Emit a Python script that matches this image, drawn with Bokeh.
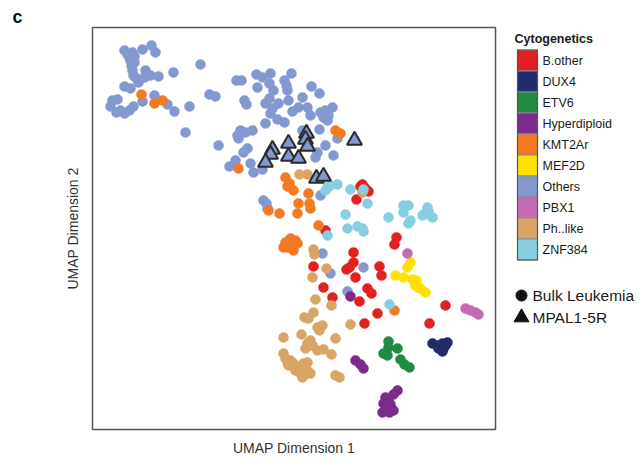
from bokeh.plotting import figure
from bokeh.layouts import row
from bokeh.models import Range1d, FixedTicker
from bokeh.embed import file_html
from bokeh.resources import INLINE
from bokeh.core.properties import value

FONT = "Liberation Sans"

categories = ["B.other", "DUX4", "ETV6", "Hyperdiploid", "KMT2Ar",
              "MEF2D", "Others", "PBX1", "Ph..like", "ZNF384"]
colors = ["#e1201f", "#222b6b", "#1f8b43", "#7d2a8e", "#f37a21",
          "#ffe000", "#8398d0", "#c46cb3", "#d9a567", "#87cfe0"]

others_x = [3.2,3.5,4.0,3.7,4.2,3.8,4.2,3.9,4.0,4.1,4.3,4.6,5.0,5.9,6.3,5.3,5.5,5.2,5.8,6.6,8.1,10.8,
            3.2,3.8,2.0,2.5,1.8,2.8,3.2,3.7,4.1,2.4,5.0,6.2,7.5,8.2,9.7,9.3,12.6,11.7,12.3,
            14.4,14.9,16.4,17.0,17.8,19.9,19.2,19.4,17.7,16.5,18.1,19.5,21.9,22.7,
            15.2,15.4,17.3,17.7,18.6,19.6,21.0,18.0,17.8,20.0,20.6,21.5,21.8,22.8,23.3,23.1,23.6,24.0,23.5,
            17.3,18.5,19.2,21.0,22.7,14.8,14.5,15.3,16.0,14.6,15.5,15.1,14.3,15.8,17.0,16.1,
            22.5,22.3,23.3,24.1,24.5,22.8,17.1,17.4,17.5,23.0,23.8,27.1,25.5,13.7]
others_y = [37.9,37.5,37.7,37.2,37.3,36.9,36.7,36.4,35.9,35.4,35.2,34.7,38.0,38.4,37.7,35.9,35.4,35.2,35.4,35.3,35.7,36.5,
            34.3,34.1,32.9,33.0,32.3,31.9,31.6,31.9,32.3,31.7,32.8,33.4,32.5,31.8,32.3,29.7,28.4,33.5,33.3,
            34.9,34.9,35.5,35.2,35.6,35.6,34.9,34.4,34.6,34.2,33.9,33.9,34.3,33.6,
            32.9,32.5,32.6,33.1,32.6,32.9,33.2,32.1,31.6,31.8,32.2,32.2,31.4,31.7,31.9,31.2,31.4,32.2,30.9,
            30.6,31.0,30.7,29.9,30.0,29.9,29.4,29.7,29.9,29.1,28.1,27.7,26.9,26.6,26.0,25.7,
            27.7,27.2,28.4,27.4,29.1,23.4,22.9,22.6,22.1,17.6,15.6,16.2,13.8,26.3]

bother_x = [26.8,27.3,27.6,27.0,26.4,23.3,26.1,26.1,25.4,25.7,26.3,22.1,28.7,28.9,30.4,30.2,
            23.1,24.0,26.7,27.5,27.9,28.5,27.2,35.3,33.7]
bother_y = [24.3,24.1,23.8,24.5,23.0,19.9,17.7,16.7,16.0,16.2,15.2,16.3,16.3,15.4,19.2,18.5,
            14.2,13.2,12.8,14.1,13.6,11.6,10.6,12.4,10.6]

dux4_x = [34.0,34.5,35.0,35.5,34.6,35.1,35.0,35.3]
dux4_y = [8.6,8.4,8.6,8.7,8.1,8.1,7.8,8.4]

etv6_x = [29.6,29.6,30.5,29.1,29.5,30.8,31.2,31.7]
etv6_y = [8.8,8.2,8.1,7.6,7.4,7.0,6.5,6.2]

hyper_x = [25.8,26.3,26.8,27.1,30.5,30.1,29.3,29.1,29.8,29.5,30.1,29.0,29.7,29.6]
hyper_y = [13.3,6.9,6.5,6.1,3.9,3.5,3.2,2.6,2.5,2.1,1.9,1.7,1.7,2.9]

kmt2ar_x = [4.9,6.2,7.0,24.3,24.8,14.6,19.3,19.7,19.5,20.1,21.6,20.6,21.7,21.8,20.5,18.7,17.6,
            22.6,19.3,19.8,20.3,19.5,20.0,20.5,19.1,20.1,30.2]
kmt2ar_y = [33.5,32.6,32.9,29.9,29.6,26.1,25.2,24.6,24.3,23.9,23.6,22.6,22.6,22.1,21.6,21.6,21.9,
            20.4,18.7,19.1,18.9,18.2,18.3,18.6,18.2,17.9,11.9]

mef2d_x = [31.8,31.5,30.3,31.1,32.0,32.4,32.3,32.8,33.3,32.6]
mef2d_y = [16.7,16.2,15.4,15.2,15.0,14.9,14.4,14.1,13.7,14.2]

pbx1_x = [31.5,37.3,37.8,38.3,38.6]
pbx1_y = [17.6,12.1,11.9,11.7,11.5]

phlike_x = [20.7,21.5,27.0,22.1,22.2,23.4,22.0,22.3,23.9,22.1,21.2,21.6,22.5,23.0,22.7,25.8,24.3,
            19.1,20.9,21.8,21.5,21.3,22.0,22.5,23.1,23.9,19.1,19.3,19.5,20.0,20.5,20.8,21.1,21.5,
            20.7,21.0,21.8,21.5,24.3,24.7,20.1,19.8,20.3,19.6,21.3]
phlike_y = [25.5,25.5,23.7,18.0,17.5,16.1,15.2,13.0,12.4,11.7,11.2,11.1,10.2,10.4,9.9,10.5,9.1,
            9.2,9.5,8.9,8.6,8.1,8.4,7.9,8.0,7.5,7.6,7.1,6.7,6.4,6.1,6.3,6.6,6.7,
            5.7,5.2,5.6,5.9,5.4,5.2,6.6,6.9,5.9,6.4,5.5]

znf384_x = [23.5,23.8,24.5,23.3,25.8,27.1,27.5,25.3,25.5,26.5,27.0,27.1,23.5,29.6,31.1,31.6,
            31.1,31.8,31.6,33.0,33.5,33.6,34.0,33.3,29.7]
znf384_y = [24.2,24.4,24.5,23.9,24.0,24.0,22.6,21.5,20.1,20.3,20.1,19.8,19.4,21.2,22.4,22.4,
            21.7,20.9,20.6,21.4,22.2,21.8,21.2,21.6,12.5]

# MPAL1-5R samples (triangles, all "Others")
mpal_x = [21.4,21.3,21.5,19.6,18.0,17.8,17.3,19.6,20.6,26.2,22.4,23.1]
mpal_y = [29.6,29.0,28.3,28.6,28.0,27.5,26.7,27.3,27.1,28.9,25.1,25.3]

shape_labels = ["Bulk Leukemia", "MPAL1-5R"]

series = {
    "B.other": (bother_x, bother_y), "DUX4": (dux4_x, dux4_y), "ETV6": (etv6_x, etv6_y),
    "Hyperdiploid": (hyper_x, hyper_y), "KMT2Ar": (kmt2ar_x, kmt2ar_y),
    "MEF2D": (mef2d_x, mef2d_y), "Others": (others_x, others_y), "PBX1": (pbx1_x, pbx1_y),
    "Ph..like": (phlike_x, phlike_y), "ZNF384": (znf384_x, znf384_y),
}
color_of = dict(zip(categories, colors))

p = figure(width=497, height=466, x_range=Range1d(0, 40.3), y_range=Range1d(0, 40.2),
           output_backend="svg", toolbar_location=None,
           min_border_left=92, min_border_right=2, min_border_top=27, min_border_bottom=37)
p.grid.visible = False
p.outline_line_color = "#555555"
p.outline_line_width = 1.5
p.background_fill_color = "white"
p.border_fill_color = "white"

p.title.text = "c"
p.title.align = "left"
p.title.offset = -80
p.title.standoff = 2
p.title.text_font = FONT
p.title.text_font_size = "18px"
p.title.text_font_style = "bold"
p.title.text_color = "#111111"

for ax in (p.xaxis[0], p.yaxis[0]):
    ax.ticker = FixedTicker(ticks=[])
    ax.axis_line_color = None
    ax.major_tick_line_color = None
    ax.minor_tick_line_color = None
    ax.major_tick_out = 0
    ax.major_tick_in = 0
    ax.minor_tick_out = 0
    ax.major_label_standoff = 0
    ax.axis_label_text_font = FONT
    ax.axis_label_text_font_size = "14px"
    ax.axis_label_text_font_style = "normal"
    ax.axis_label_text_color = "#333333"
p.xaxis[0].axis_label = "UMAP Dimension 1"
p.yaxis[0].axis_label = "UMAP Dimension 2"
p.xaxis[0].axis_label_standoff = 10
p.yaxis[0].axis_label_standoff = 12

draw_order = ["Others"] + [c for c in categories if c != "Others"]
for cat in draw_order:
    xs, ys = series[cat]
    p.scatter(xs, ys, marker="circle", size=10, fill_color=color_of[cat],
              line_color=color_of[cat], line_width=0.5)

p.scatter(mpal_x, mpal_y, marker="triangle", size=15, fill_color=color_of["Others"],
          line_color="#2a2a2a", line_width=2)

# legend panel (pixel-like coordinates matching the page rows 27..429)
q = figure(width=144, height=466, x_range=Range1d(0, 144), y_range=Range1d(429, 27),
           output_backend="svg", toolbar_location=None,
           min_border_left=0, min_border_right=0, min_border_top=27, min_border_bottom=37,
           x_axis_location=None, y_axis_location=None)
q.grid.visible = False
q.outline_line_color = None
q.background_fill_color = "white"
q.border_fill_color = "white"

sw_top, sw_h = 49.5, 21.0
sw_y = [sw_top + sw_h * (i + 0.5) for i in range(len(categories))]
q.rect(x=[30] * len(categories), y=sw_y, width=20, height=sw_h,
       fill_color=colors, line_color="#8c8c8c", line_width=1)
q.rect(x=[30], y=[sw_top + sw_h * len(categories) / 2], width=20, height=sw_h * len(categories),
       fill_color=None, line_color="#555555", line_width=1.2)
q.text(x=[45] * len(categories), y=sw_y, text=categories, text_baseline="middle",
       text_font=value(FONT), text_font_size="12.5px", text_color="#1a1a1a")
q.text(x=[17], y=[38], text=["Cytogenetics"], text_baseline="middle",
       text_font=value(FONT), text_font_size="12.5px", text_font_style="bold", text_color="#1a1a1a")

q.scatter(x=[24], y=[295], marker="circle", size=11, color="#111111")
q.scatter(x=[24], y=[317], marker="triangle", size=15, color="#111111")
q.text(x=[35, 35], y=[295, 317], text=shape_labels, text_baseline="middle",
       text_font=value(FONT), text_font_size="15.5px", text_color="#1a1a1a")

layout = row(p, q)
open("out.html", "w").write(file_html(layout, INLINE))
